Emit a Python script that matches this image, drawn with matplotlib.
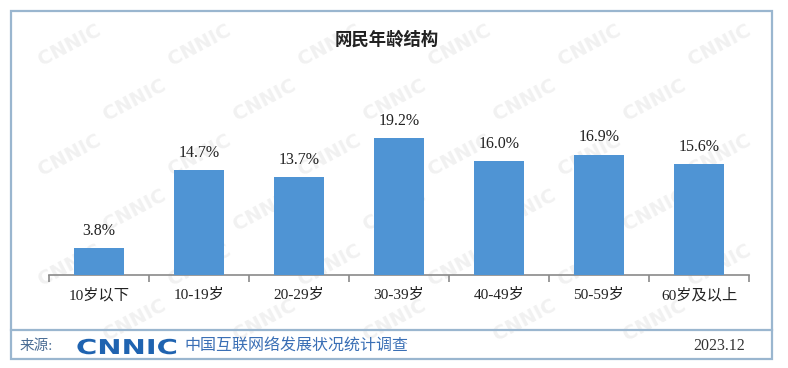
import matplotlib.pyplot as plt
from matplotlib.patches import Rectangle, PathPatch
from matplotlib.textpath import TextPath
from matplotlib.font_manager import FontProperties
from matplotlib.transforms import Affine2D, IdentityTransform
from matplotlib.lines import Line2D

# 数据
categories = ['10岁以下', '10-19岁', '20-29岁', '30-39岁', '40-49岁', '50-59岁', '60岁及以上']
values = [3.8, 14.7, 13.7, 19.2, 16.0, 16.9, 15.6]
labels = ['3.8%', '14.7%', '13.7%', '19.2%', '16.0%', '16.9%', '15.6%']

W, H = 788, 368
fig = plt.figure(figsize=(W / 100, H / 100), dpi=100)
fig.patch.set_facecolor('white')

serif_cjk = ['Liberation Serif', 'Noto Sans CJK SC']

# 水印 (放在底层的坐标轴里)
bg = fig.add_axes([0, 0, 1, 1], zorder=-1)
bg.set_xlim(0, W)
bg.set_ylim(H, 0)
bg.axis('off')
for row in range(6):
    for col in range(6):
        wx = 70 + col * 130 + (row % 2) * 65
        wy = 45 + row * 55
        if wx > 730 or wy > 320:
            continue
        bg.text(wx, wy, 'CNNIC', fontsize=14, fontweight='bold',
                color='#f1f1f1', rotation=28, ha='center', va='center',
                family='DejaVu Sans')

# 外框和分隔线
fig.patches.append(Rectangle((11 / W, 1 - 359 / H), 761 / W, 348 / H,
                             transform=fig.transFigure, fill=False,
                             edgecolor='#9ab6cf', lw=1.6, zorder=1))
fig.lines.append(Line2D([11 / W, 772 / W], [1 - 330 / H, 1 - 330 / H],
                        transform=fig.transFigure, color='#9ab6cf', lw=1.6))

# 柱状图
ax = fig.add_axes([49 / W, 1 - 275 / H, 700 / W, 178 / H])
ax.patch.set_visible(False)
x = range(len(categories))
ax.bar(x, values, width=0.5, color='#4f94d4', zorder=3)
for xi, v, lab in zip(x, values, labels):
    ax.text(xi, v + 1.3, lab, ha='center', va='bottom', fontsize=11.5,
            family='Liberation Serif', color='#222222')

ax.set_xlim(-0.5, 6.5)
ax.set_ylim(0, 25)
for s in ['top', 'right', 'left']:
    ax.spines[s].set_visible(False)
ax.spines['bottom'].set_color('#8a8a8a')
ax.spines['bottom'].set_linewidth(1.2)
ax.set_yticks([])
ax.set_xticks(list(x))
ax.set_xticklabels(categories, fontsize=11, family=serif_cjk, color='#222222')
ax.tick_params(axis='x', which='major', length=0, pad=9)
ax.set_xticks([i - 0.5 for i in range(len(categories) + 1)], minor=True)
ax.tick_params(axis='x', which='minor', length=5, color='#8a8a8a', width=1.2)

# 标题
fig.text(387 / W, 1 - 40 / H, '网民年龄结构', ha='center', va='center',
         fontsize=12.5, fontweight='bold', family='Noto Sans CJK SC', color='#222222')

# 页脚
fig.text(20 / W, 1 - 346 / H, '来源:', ha='left', va='center', fontsize=10.5,
         family=serif_cjk, color='#4a6c94')
logo = TextPath((0, 0), 'CNNIC', size=1,
                prop=FontProperties(family='DejaVu Sans', weight='bold'))
tr = Affine2D().scale(29, 20.5).translate(76, H - 354)
fig.patches.append(PathPatch(logo, transform=tr + IdentityTransform(),
                             facecolor='#1f63b0', edgecolor='none'))
fig.text(184 / W, 1 - 346 / H, '中国互联网络发展状况统计调查', ha='left', va='center',
         fontsize=11.5, family='Noto Sans CJK SC', color='#3a6fb5')
fig.text(745 / W, 1 - 346 / H, '2023.12', ha='right', va='center', fontsize=11.5,
         family='Liberation Serif', color='#333333')

fig.savefig('out.png', dpi=100)
